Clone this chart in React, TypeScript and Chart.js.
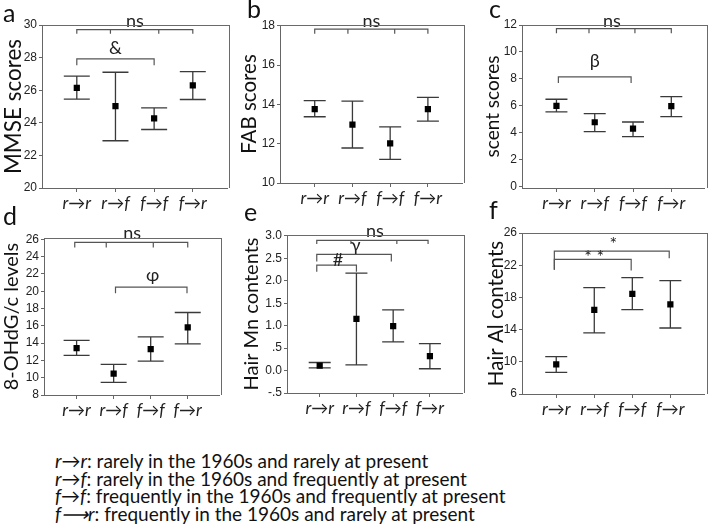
import React, { useEffect, useRef } from "react";
import { Chart, registerables } from "chart.js";
Chart.register(...registerables);

const categories = ["r→r", "r→f", "f→f", "f→r"];

// a: MMSE
const mmseMean = [26.14, 25.02, 24.27, 26.29];
const mmseUpper = [26.86, 27.1, 24.92, 27.14];
const mmseLower = [25.45, 22.9, 23.59, 25.43];
const mmseTicks = [20, 22, 24, 26, 28, 30];
const mmseTickLabels = ["20", "22", "24", "26", "28", "30"];

// b: FAB
const fabMean = [13.76, 12.97, 12.02, 13.76];
const fabUpper = [14.19, 14.17, 12.86, 14.36];
const fabLower = [13.37, 11.78, 11.2, 13.15];
const fabTicks = [10, 12, 14, 16, 18];
const fabTickLabels = ["10", "12", "14", "16", "18"];

// c: scent
const scentMean = [6.0, 4.78, 4.31, 5.97];
const scentUpper = [6.49, 5.42, 4.8, 6.69];
const scentLower = [5.55, 4.08, 3.71, 5.2];
const scentTicks = [0, 2, 4, 6, 8, 10, 12];
const scentTickLabels = ["0", "2", "4", "6", "8", "10", "12"];

// d: 8-OHdG/c
const ohdgMean = [13.42, 10.46, 13.31, 15.81];
const ohdgUpper = [14.31, 11.54, 14.73, 17.54];
const ohdgLower = [12.58, 9.46, 11.92, 13.92];
const ohdgTicks = [8, 10, 12, 14, 16, 18, 20, 22, 24, 26];
const ohdgTickLabels = ["8", "10", "12", "14", "16", "18", "20", "22", "24", "26"];

// e: Hair Mn
const mnMean = [0.11, 1.15, 0.99, 0.32];
const mnUpper = [0.18, 2.17, 1.35, 0.6];
const mnLower = [0.06, 0.125, 0.64, 0.04];
const mnTicks = [-0.5, 0, 0.5, 1, 1.5, 2, 2.5, 3];
const mnTickLabels = ["-.5", "0.0", ".5", "1.0", "1.5", "2.0", "2.5", "3.0"];

// f: Hair Al
const alMean = [9.67, 16.45, 18.45, 17.14];
const alUpper = [10.65, 19.22, 20.45, 20.08];
const alLower = [8.69, 13.59, 16.49, 14.2];
const alTicks = [6, 10, 14, 18, 22, 26];
const alTickLabels = ["6", "10", "14", "18", "22", "26"];

// significance brackets (category index / data units)
const mmseBrackets = [
  { from: 0, to: 3, y: 29.72, ends: [29.47, 29.47], mids: [0.87, 2.12], label: "ns", lx: 1.5, ly: 30.22 },
  { from: 0, to: 2, y: 27.92, ends: [27.53, 27.53], mids: [], label: "&", lx: 1.0, ly: 28.55 },
];
const fabBrackets = [
  { from: 0, to: 3, y: 17.83, ends: [17.6, 17.6], mids: [0.88, 2.12], label: "ns", lx: 1.5, ly: 18.22 },
];
const scentBrackets = [
  { from: 0, to: 3, y: 11.73, ends: [11.38, 11.38], mids: [0.85, 2.05], label: "ns", lx: 1.45, ly: 12.3 },
  { from: 0.05, to: 1.95, y: 8.15, ends: [7.7, 7.7], mids: [], label: "β", lx: 1.0, ly: 9.3 },
];
const ohdgBrackets = [
  { from: -0.05, to: 3, y: 25.65, ends: [25.04, 25.04], mids: [0.8, 2.07], label: "ns", lx: 1.5, ly: 26.7 },
  { from: 1.05, to: 2.98, y: 20.46, ends: [19.77, 19.77], mids: [], label: "φ", lx: 2.05, ly: 21.9 },
];
const mnBrackets = [
  { from: -0.08, to: 2.95, y: 2.9, ends: [2.82, 2.82], mids: [0.85, 2.1], label: "ns", lx: 1.5, ly: 3.11 },
  { from: -0.08, to: 1.95, y: 2.59, ends: [2.43, 2.43], mids: [], label: "γ", lx: 0.98, ly: 2.79 },
  { from: -0.08, to: 1.0, y: 2.35, ends: [2.2, 2.2], mids: [], label: "#", lx: 0.5, ly: 2.47 },
];
const alBrackets = [
  { from: -0.05, to: 2.97, y: 23.76, ends: [21.43, 22.86], mids: [], label: "*", lx: 1.5, ly: 24.6 },
  { from: -0.05, to: 1.97, y: 22.73, ends: [21.43, 21.35], mids: [], label: "* *", lx: 1.0, ly: 23.05 },
];

const FONT = "Lato, 'Open Sans', sans-serif";
const TICK_FONT = "'Liberation Sans', Arial, sans-serif";

const panels = [
  { letter: "a", title: "MMSE scores", mean: mmseMean, upper: mmseUpper, lower: mmseLower, ticks: mmseTicks, tickLabels: mmseTickLabels, brackets: mmseBrackets,
    yMin: 20, yMax: 30, xMin: -0.9, xMax: 3.9, box: { L: 42, R: 229, T: 25, B: 188 }, cv: { left: 0, top: 0, right: 232, bottom: 215 }, titleX: 12, titleSize: 22.5, cap: 13, lp: { x: 3, y: 0 } },
  { letter: "b", title: "FAB scores", mean: fabMean, upper: fabUpper, lower: fabLower, ticks: fabTicks, tickLabels: fabTickLabels, brackets: fabBrackets,
    yMin: 10, yMax: 18.04, xMin: -0.92, xMax: 3.92, box: { L: 280, R: 464, T: 25, B: 183 }, cv: { left: 236, top: 0, right: 467, bottom: 210 }, titleX: 249, titleSize: 20.5, cap: 11, lp: { x: 247, y: -4 } },
  { letter: "c", title: "scent scores", mean: scentMean, upper: scentUpper, lower: scentLower, ticks: scentTicks, tickLabels: scentTickLabels, brackets: scentBrackets,
    yMin: -0.1, yMax: 12, xMin: -0.9, xMax: 3.87, box: { L: 522, R: 707, T: 25, B: 188 }, cv: { left: 480, top: 0, right: 709, bottom: 213 }, titleX: 493, titleSize: 19, cap: 11, lp: { x: 489, y: -4 } },
  { letter: "d", title: "8-OHdG/c levels", mean: ohdgMean, upper: ohdgUpper, lower: ohdgLower, ticks: ohdgTicks, tickLabels: ohdgTickLabels, brackets: ohdgBrackets,
    yMin: 8, yMax: 26.15, xMin: -0.88, xMax: 3.86, box: { L: 44, R: 221, T: 238, B: 395 }, cv: { left: 0, top: 212, right: 224, bottom: 422 }, titleX: 11, titleSize: 20, cap: 13, lp: { x: 3, y: 203 } },
  { letter: "e", title: "Hair Mn contents", mean: mnMean, upper: mnUpper, lower: mnLower, ticks: mnTicks, tickLabels: mnTickLabels, brackets: mnBrackets,
    yMin: -0.5, yMax: 3.02, xMin: -0.89, xMax: 3.89, box: { L: 287, R: 464, T: 235, B: 393 }, cv: { left: 238, top: 210, right: 467, bottom: 422 }, titleX: 252, titleSize: 20, cap: 11, lp: { x: 244, y: 199 } },
  { letter: "f", title: "Hair Al contents", mean: alMean, upper: alUpper, lower: alLower, ticks: alTicks, tickLabels: alTickLabels, brackets: alBrackets,
    yMin: 6, yMax: 26, xMin: -0.9, xMax: 3.9, box: { L: 522, R: 707, T: 233, B: 394 }, cv: { left: 480, top: 208, right: 709, bottom: 421 }, titleX: 496, titleSize: 20.5, cap: 11, lp: { x: 489, y: 197 } },
];

const legendLines = [
  ["r→r", ": rarely in the 1960s and rarely at present"],
  ["r→f", ": rarely in the 1960s and frequently at present"],
  ["f→f", ": frequently in the 1960s and frequently at present"],
  ["f⟶r", ": frequently in the 1960s and rarely at present"],
];

function Panel({ cfg }: { cfg: any }) {
  const ref = useRef<HTMLCanvasElement>(null);
  const cv = cfg.cv;
  const W = cv.right - cv.left;
  const H = cv.bottom - cv.top;
  useEffect(() => {
    const errPlugin = {
      id: "errPlugin",
      beforeDatasetsDraw(chart: any) {
        const { ctx } = chart;
        const xs = chart.scales.x;
        const ys = chart.scales.y;
        ctx.save();
        ctx.strokeStyle = "#3a3a3a";
        ctx.lineWidth = 1.3;
        cfg.mean.forEach((_: number, i: number) => {
          const x = xs.getPixelForValue(i);
          const yu = ys.getPixelForValue(cfg.upper[i]);
          const yl = ys.getPixelForValue(cfg.lower[i]);
          ctx.beginPath();
          ctx.moveTo(x, yu);
          ctx.lineTo(x, yl);
          ctx.moveTo(x - cfg.cap, yu);
          ctx.lineTo(x + cfg.cap, yu);
          ctx.moveTo(x - cfg.cap, yl);
          ctx.lineTo(x + cfg.cap, yl);
          ctx.stroke();
        });
        ctx.restore();
      },
    };
    const bracketPlugin = {
      id: "bracketPlugin",
      afterDraw(chart: any) {
        const { ctx } = chart;
        const xs = chart.scales.x;
        const ys = chart.scales.y;
        ctx.save();
        cfg.brackets.forEach((b: any) => {
          const x1 = xs.getPixelForValue(b.from);
          const x2 = xs.getPixelForValue(b.to);
          const y = ys.getPixelForValue(b.y);
          ctx.strokeStyle = "#555";
          ctx.lineWidth = 1.2;
          ctx.beginPath();
          ctx.moveTo(x1, ys.getPixelForValue(b.ends[0]));
          ctx.lineTo(x1, y);
          ctx.lineTo(x2, y);
          ctx.lineTo(x2, ys.getPixelForValue(b.ends[1]));
          b.mids.forEach((m: number) => {
            const xm = xs.getPixelForValue(m);
            ctx.moveTo(xm, y);
            ctx.lineTo(xm, ys.getPixelForValue(b.ends[0]));
          });
          ctx.stroke();
          ctx.fillStyle = "#222";
          ctx.font = `18px ${FONT}`;
          ctx.textAlign = "center";
          ctx.textBaseline = "middle";
          ctx.fillText(b.label, xs.getPixelForValue(b.lx), ys.getPixelForValue(b.ly));
        });
        ctx.restore();
      },
    };
    const titlePad = Math.max(0, cfg.titleX - cv.left - cfg.titleSize * 0.6);
    const chart = new Chart(ref.current!, {
      type: "scatter",
      data: {
        datasets: [
          {
            data: cfg.mean.map((m: number, i: number) => ({ x: i, y: m })),
            pointStyle: "rect",
            pointRadius: 4.4,
            pointHoverRadius: 4.4,
            backgroundColor: "#000",
            borderWidth: 0,
          },
        ],
      },
      options: {
        animation: false,
        responsive: false,
        maintainAspectRatio: false,
        events: [],
        layout: { padding: { left: 0, top: cfg.box.T - cv.top, right: cv.right - cfg.box.R - 1, bottom: 0 } },
        plugins: { legend: { display: false }, tooltip: { enabled: false } },
        scales: {
          x: {
            type: "linear",
            min: cfg.xMin,
            max: cfg.xMax,
            afterBuildTicks: (s: any) => {
              s.ticks = categories.map((_, i) => ({ value: i }));
            },
            afterFit: (s: any) => {
              s.height = cv.bottom - cfg.box.B;
            },
            ticks: {
              callback: (v: any) => categories[v],
              font: { family: FONT, style: "italic", size: 17 },
              color: "#222",
              padding: 1,
              maxRotation: 0,
              autoSkip: false,
            },
            grid: { drawOnChartArea: false, tickLength: 4, color: "#666" },
            border: { color: "#666", width: 1 },
          },
          y: {
            min: cfg.yMin,
            max: cfg.yMax,
            afterBuildTicks: (s: any) => {
              s.ticks = cfg.ticks.map((v: number) => ({ value: v }));
            },
            afterFit: (s: any) => {
              s.width = cfg.box.L - cv.left;
            },
            ticks: {
              callback: (_v: any, i: number) => cfg.tickLabels[i],
              font: { family: TICK_FONT, size: 12 },
              color: "#222",
              padding: 2,
              autoSkip: false,
            },
            grid: { drawOnChartArea: false, tickLength: 3, color: "#666" },
            border: { color: "#666", width: 1 },
            title: {
              display: true,
              text: cfg.title,
              color: "#111",
              font: { family: FONT, size: cfg.titleSize },
              padding: { top: titlePad, bottom: 0 },
            },
          },
        },
      },
      plugins: [errPlugin, bracketPlugin],
    } as any);
    return () => chart.destroy();
  }, []);
  return (
    <>
      <canvas
        ref={ref}
        width={W}
        height={H}
        style={{ position: "absolute", left: cv.left, top: cv.top, width: W, height: H }}
      />
      <div
        style={{
          position: "absolute",
          left: cfg.box.L,
          top: cfg.box.T,
          width: cfg.box.R - cfg.box.L + 1,
          height: cfg.box.B - cfg.box.T,
          borderTop: "1px solid #6a6a6a",
          borderRight: "1px solid #6a6a6a",
          boxSizing: "border-box",
          pointerEvents: "none",
        }}
      />
      <div
        style={{
          position: "absolute",
          left: cfg.lp.x,
          top: cfg.lp.y,
          font: `25px ${FONT}`,
          lineHeight: "25px",
          color: "#111",
        }}
      >
        {cfg.letter}
      </div>
    </>
  );
}

export default function App() {
  return (
    <div
      style={{
        position: "fixed",
        left: 0,
        top: 0,
        width: 709,
        height: 529,
        background: "#fff",
        overflow: "hidden",
      }}
    >
      {panels.map((p) => (
        <Panel key={p.letter} cfg={p} />
      ))}
      <div
        style={{
          position: "absolute",
          left: 55,
          top: 452,
          font: `19px ${FONT}`,
          lineHeight: "17.6px",
          color: "#111",
          whiteSpace: "nowrap",
        }}
      >
        {legendLines.map((l, i) => (
          <div key={i}>
            <i>{l[0]}</i>
            {l[1]}
          </div>
        ))}
      </div>
    </div>
  );
}
